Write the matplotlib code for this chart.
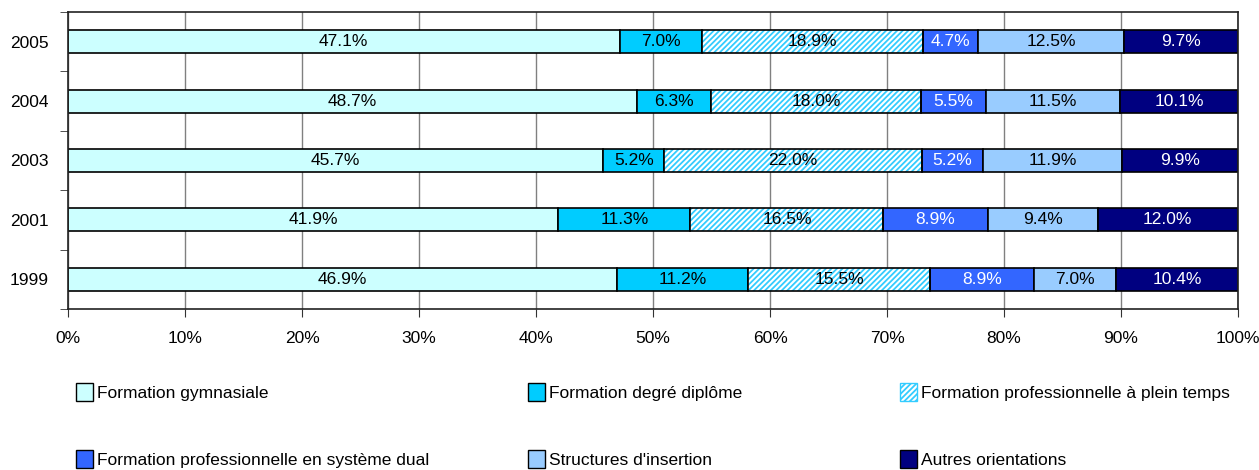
import matplotlib
matplotlib.use("Agg")
import matplotlib.pyplot as plt
from matplotlib.patches import Patch
import numpy as np

plt.rcParams['font.family'] = ['Liberation Sans', 'DejaVu Sans']
plt.rcParams['hatch.linewidth'] = 1.3

years = ["1999", "2001", "2003", "2004", "2005"]
series = ["Formation gymnasiale", "Formation degré diplôme",
          "Formation professionnelle à plein temps",
          "Formation professionnelle en système dual",
          "Structures d'insertion", "Autres orientations"]
gymnasiale = [46.9, 41.9, 45.7, 48.7, 47.1]
diplome = [11.2, 11.3, 5.2, 6.3, 7.0]
plein_temps = [15.5, 16.5, 22.0, 18.0, 18.9]
dual = [8.9, 8.9, 5.2, 5.5, 4.7]
insertion = [7.0, 9.4, 11.9, 11.5, 12.5]
autres = [10.4, 12.0, 9.9, 10.1, 9.7]

values = np.array([gymnasiale, diplome, plein_temps, dual, insertion, autres])
colors = ["#CCFFFF", "#00CCFF", "white", "#3366FF", "#99CCFF", "#000080"]
text_colors = ["black", "black", "black", "white", "black", "white"]
hatch_color = "#33CCFF"
fs = 12.5

fig = plt.figure(figsize=(12.59, 4.70), dpi=100)
ax = fig.add_axes([68/1259, 1 - 309/470, 1170/1259, 297/470])

y = np.arange(len(years))
totals = values.sum(axis=0)
shares = values / totals
left = np.zeros(len(years))
h = 0.39
for i, name in enumerate(series):
    w = shares[i]
    if i == 2:
        ax.barh(y, w, left=left, height=h, color="white", edgecolor=hatch_color,
                hatch="//////", linewidth=0, zorder=2)
        ax.barh(y, w, left=left, height=h, fill=False, edgecolor="black",
                linewidth=1.2, zorder=3)
    else:
        ax.barh(y, w, left=left, height=h, color=colors[i], edgecolor="black",
                linewidth=1.2, zorder=2)
    for j in range(len(years)):
        ax.text(left[j] + w[j] / 2, y[j], f"{values[i][j]:.1f}%", ha="center",
                va="center", fontsize=fs, color=text_colors[i], zorder=4)
    left = left + w

ax.set_xlim(0, 1)
ax.set_ylim(-0.5, len(years) - 0.5)
ax.set_xticks(np.arange(0, 1.01, 0.1))
ax.set_xticklabels([f"{int(round(t*100))}%" for t in np.arange(0, 1.01, 0.1)], fontsize=fs)
ax.set_yticks(y)
ax.set_yticklabels(years, fontsize=fs)
ax.set_yticks(np.arange(-0.5, len(years)), minor=True)
ax.tick_params(axis="y", which="major", length=0, pad=14)
ax.tick_params(axis="y", which="minor", length=6, direction="out", color="#333333")
ax.tick_params(axis="x", length=6, direction="out", pad=10, color="#333333")
ax.grid(axis="x", color="#808080", linewidth=1, zorder=0)
ax.set_axisbelow(True)
for s in ax.spines.values():
    s.set_color("#222222")
    s.set_linewidth(1.2)

# legend, one block per column
handles = []
for i, name in enumerate(series):
    if i == 2:
        handles.append(Patch(facecolor="white", edgecolor=hatch_color, hatch="//////", label=name))
    else:
        handles.append(Patch(facecolor=colors[i], edgecolor="black", label=name))

col_x = [76/1259, 528/1259, 900/1259]
for c in range(3):
    hs = [handles[c], handles[c + 3]]
    fig.legend(handles=hs, loc="upper left", bbox_to_anchor=(col_x[c], 1 - 383/470),
               frameon=False, fontsize=fs, handlelength=1.0, handleheight=1.2,
               handletextpad=0.2, labelspacing=2.85, borderaxespad=0, borderpad=0)

fig.savefig("out.png", dpi=100)
